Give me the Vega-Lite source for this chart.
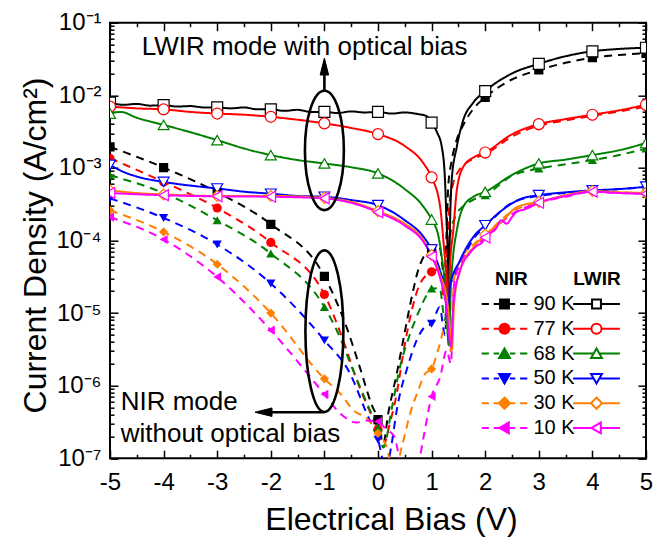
{
"$schema": "https://vega.github.io/schema/vega-lite/v6.json",
"width": 536, "height": 435.5,
"autosize": {"type": "none"},
"padding": {"left": 110, "top": 22.7, "right": 21, "bottom": 80},
"config": {
  "view": {"stroke": "black", "strokeWidth": 2},
  "font": "Liberation Sans",
  "axis": {"grid": false, "domain": false, "tickColor": "black", "tickWidth": 1.5, "labelFont": "Liberation Sans", "labelColor": "black", "labelFontSize": 24, "titleFont": "Liberation Sans", "titleFontSize": 32, "titleFontWeight": "normal", "titleColor": "black", "labelFlush": false, "labelOverlap": false}
},
"datasets": {
"c": [
{"m":"NIR","T":"90 K","V":-5,"J":1.95e-3},{"m":"NIR","T":"90 K","V":-4,"J":1.01e-3},{"m":"NIR","T":"90 K","V":-3,"J":4.6e-4},{"m":"NIR","T":"90 K","V":-2,"J":1.67e-4},{"m":"NIR","T":"90 K","V":-1,"J":3.2e-5},{"m":"NIR","T":"90 K","V":-0.6,"J":6.8e-6},{"m":"NIR","T":"90 K","V":-0.34,"J":1.8e-6},{"m":"NIR","T":"90 K","V":-0.12,"J":5.5e-7},{"m":"NIR","T":"90 K","V":0,"J":3.4e-7},{"m":"NIR","T":"90 K","V":0.1,"J":1.6e-7},{"m":"NIR","T":"90 K","V":0.19,"J":4.1e-7},{"m":"NIR","T":"90 K","V":0.35,"J":1.46e-6},{"m":"NIR","T":"90 K","V":0.47,"J":4.2e-6},{"m":"NIR","T":"90 K","V":0.63,"J":1.66e-5},{"m":"NIR","T":"90 K","V":0.75,"J":3.9e-5},{"m":"NIR","T":"90 K","V":1,"J":7.7e-5},{"m":"NIR","T":"90 K","V":1.15,"J":8e-5},{"m":"NIR","T":"90 K","V":1.24,"J":3e-5},{"m":"NIR","T":"90 K","V":1.28,"J":1.3e-4},{"m":"NIR","T":"90 K","V":1.31,"J":5.5e-4},{"m":"NIR","T":"90 K","V":1.37,"J":1.2e-3},{"m":"NIR","T":"90 K","V":1.45,"J":2.2e-3},{"m":"NIR","T":"90 K","V":1.6,"J":4e-3},{"m":"NIR","T":"90 K","V":1.8,"J":6.8e-3},{"m":"NIR","T":"90 K","V":2,"J":9.35e-3},{"m":"NIR","T":"90 K","V":2.5,"J":1.65e-2},{"m":"NIR","T":"90 K","V":3,"J":2.23e-2},{"m":"NIR","T":"90 K","V":3.5,"J":2.8e-2},{"m":"NIR","T":"90 K","V":4,"J":3.29e-2},{"m":"NIR","T":"90 K","V":4.5,"J":3.6e-2},{"m":"NIR","T":"90 K","V":5,"J":3.79e-2},
{"m":"NIR","T":"77 K","V":-5,"J":1.35e-3},{"m":"NIR","T":"77 K","V":-4,"J":6.4e-4},{"m":"NIR","T":"77 K","V":-3,"J":2.8e-4},{"m":"NIR","T":"77 K","V":-2,"J":9.4e-5},{"m":"NIR","T":"77 K","V":-1,"J":1.8e-5},{"m":"NIR","T":"77 K","V":-0.65,"J":4.2e-6},{"m":"NIR","T":"77 K","V":-0.37,"J":1.06e-6},{"m":"NIR","T":"77 K","V":-0.12,"J":3.9e-7},{"m":"NIR","T":"77 K","V":0,"J":2.5e-7},{"m":"NIR","T":"77 K","V":0.1,"J":1.5e-7},{"m":"NIR","T":"77 K","V":0.22,"J":3e-7},{"m":"NIR","T":"77 K","V":0.35,"J":7.8e-7},{"m":"NIR","T":"77 K","V":0.47,"J":2.75e-6},{"m":"NIR","T":"77 K","V":0.63,"J":1.09e-5},{"m":"NIR","T":"77 K","V":0.78,"J":2.5e-5},{"m":"NIR","T":"77 K","V":1,"J":3.7e-5},{"m":"NIR","T":"77 K","V":1.15,"J":4e-5},{"m":"NIR","T":"77 K","V":1.24,"J":1.5e-5},{"m":"NIR","T":"77 K","V":1.29,"J":8e-5},{"m":"NIR","T":"77 K","V":1.33,"J":3e-4},{"m":"NIR","T":"77 K","V":1.4,"J":6e-4},{"m":"NIR","T":"77 K","V":1.5,"J":9e-4},{"m":"NIR","T":"77 K","V":1.6,"J":1.1e-3},{"m":"NIR","T":"77 K","V":1.8,"J":1.35e-3},{"m":"NIR","T":"77 K","V":2,"J":1.55e-3},{"m":"NIR","T":"77 K","V":2.5,"J":2.7e-3},{"m":"NIR","T":"77 K","V":3,"J":3.8e-3},{"m":"NIR","T":"77 K","V":3.5,"J":4.5e-3},{"m":"NIR","T":"77 K","V":4,"J":5.2e-3},{"m":"NIR","T":"77 K","V":4.5,"J":6e-3},{"m":"NIR","T":"77 K","V":5,"J":7e-3},
{"m":"NIR","T":"68 K","V":-5,"J":7.9e-4},{"m":"NIR","T":"68 K","V":-4,"J":4.5e-4},{"m":"NIR","T":"68 K","V":-3,"J":1.9e-4},{"m":"NIR","T":"68 K","V":-2,"J":6.6e-5},{"m":"NIR","T":"68 K","V":-1,"J":1.21e-5},{"m":"NIR","T":"68 K","V":-0.77,"J":5.8e-6},{"m":"NIR","T":"68 K","V":-0.46,"J":1.6e-6},{"m":"NIR","T":"68 K","V":-0.15,"J":4.6e-7},{"m":"NIR","T":"68 K","V":0,"J":2.6e-7},{"m":"NIR","T":"68 K","V":0.1,"J":1.4e-7},{"m":"NIR","T":"68 K","V":0.26,"J":5e-7},{"m":"NIR","T":"68 K","V":0.41,"J":1.8e-6},{"m":"NIR","T":"68 K","V":0.6,"J":5.2e-6},{"m":"NIR","T":"68 K","V":0.75,"J":1e-5},{"m":"NIR","T":"68 K","V":0.91,"J":1.77e-5},{"m":"NIR","T":"68 K","V":1,"J":2.17e-5},{"m":"NIR","T":"68 K","V":1.15,"J":2.2e-5},{"m":"NIR","T":"68 K","V":1.25,"J":8e-6},{"m":"NIR","T":"68 K","V":1.3,"J":5e-5},{"m":"NIR","T":"68 K","V":1.35,"J":1.2e-4},{"m":"NIR","T":"68 K","V":1.45,"J":2.2e-4},{"m":"NIR","T":"68 K","V":1.6,"J":3e-4},{"m":"NIR","T":"68 K","V":1.8,"J":3.7e-4},{"m":"NIR","T":"68 K","V":2,"J":4.2e-4},{"m":"NIR","T":"68 K","V":2.5,"J":7.8e-4},{"m":"NIR","T":"68 K","V":3,"J":9.8e-4},{"m":"NIR","T":"68 K","V":3.5,"J":1.12e-3},{"m":"NIR","T":"68 K","V":4,"J":1.28e-3},{"m":"NIR","T":"68 K","V":4.5,"J":1.5e-3},{"m":"NIR","T":"68 K","V":5,"J":1.85e-3},
{"m":"NIR","T":"50 K","V":-5,"J":3.8e-4},{"m":"NIR","T":"50 K","V":-4,"J":2.04e-4},{"m":"NIR","T":"50 K","V":-3,"J":8.8e-5},{"m":"NIR","T":"50 K","V":-2,"J":2.55e-5},{"m":"NIR","T":"50 K","V":-1,"J":4.2e-6},{"m":"NIR","T":"50 K","V":-0.52,"J":1.46e-6},{"m":"NIR","T":"50 K","V":-0.21,"J":4.1e-7},{"m":"NIR","T":"50 K","V":0,"J":1.8e-7},{"m":"NIR","T":"50 K","V":0.15,"J":7e-8},{"m":"NIR","T":"50 K","V":0.25,"J":1.5e-7},{"m":"NIR","T":"50 K","V":0.35,"J":4.6e-7},{"m":"NIR","T":"50 K","V":0.57,"J":2e-6},{"m":"NIR","T":"50 K","V":0.72,"J":4.2e-6},{"m":"NIR","T":"50 K","V":0.88,"J":6.5e-6},{"m":"NIR","T":"50 K","V":1,"J":7.1e-6},{"m":"NIR","T":"50 K","V":1.15,"J":1.2e-5},{"m":"NIR","T":"50 K","V":1.25,"J":5e-6},{"m":"NIR","T":"50 K","V":1.3,"J":2e-5},{"m":"NIR","T":"50 K","V":1.4,"J":3e-5},{"m":"NIR","T":"50 K","V":1.55,"J":5e-5},{"m":"NIR","T":"50 K","V":1.8,"J":1.1e-4},{"m":"NIR","T":"50 K","V":2,"J":1.55e-4},{"m":"NIR","T":"50 K","V":2.5,"J":3.3e-4},{"m":"NIR","T":"50 K","V":3,"J":4.1e-4},{"m":"NIR","T":"50 K","V":3.5,"J":4.5e-4},{"m":"NIR","T":"50 K","V":4,"J":4.8e-4},{"m":"NIR","T":"50 K","V":4.5,"J":5.1e-4},{"m":"NIR","T":"50 K","V":5,"J":5.4e-4},
{"m":"NIR","T":"30 K","V":-5,"J":2.6e-4},{"m":"NIR","T":"30 K","V":-4,"J":1.31e-4},{"m":"NIR","T":"30 K","V":-3,"J":4.7e-5},{"m":"NIR","T":"30 K","V":-2,"J":1e-5},{"m":"NIR","T":"30 K","V":-1,"J":1.24e-6},{"m":"NIR","T":"30 K","V":-0.7,"J":7.7e-7},{"m":"NIR","T":"30 K","V":-0.45,"J":4.5e-7},{"m":"NIR","T":"30 K","V":-0.2,"J":3.5e-7},{"m":"NIR","T":"30 K","V":0,"J":2.2e-7},{"m":"NIR","T":"30 K","V":0.15,"J":1.5e-7},{"m":"NIR","T":"30 K","V":0.3,"J":6e-8},{"m":"NIR","T":"30 K","V":0.45,"J":1.5e-7},{"m":"NIR","T":"30 K","V":0.6,"J":4.1e-7},{"m":"NIR","T":"30 K","V":0.75,"J":8.6e-7},{"m":"NIR","T":"30 K","V":0.88,"J":1.46e-6},{"m":"NIR","T":"30 K","V":1,"J":1.7e-6},{"m":"NIR","T":"30 K","V":1.12,"J":3.06e-6},{"m":"NIR","T":"30 K","V":1.28,"J":7.1e-6},{"m":"NIR","T":"30 K","V":1.35,"J":3e-6},{"m":"NIR","T":"30 K","V":1.42,"J":3e-5},{"m":"NIR","T":"30 K","V":1.55,"J":5.5e-5},{"m":"NIR","T":"30 K","V":1.8,"J":9e-5},{"m":"NIR","T":"30 K","V":2,"J":1.2e-4},{"m":"NIR","T":"30 K","V":2.5,"J":2.5e-4},{"m":"NIR","T":"30 K","V":3,"J":3.3e-4},{"m":"NIR","T":"30 K","V":3.5,"J":4.1e-4},{"m":"NIR","T":"30 K","V":4,"J":4.7e-4},{"m":"NIR","T":"30 K","V":4.5,"J":4.6e-4},{"m":"NIR","T":"30 K","V":5,"J":4.5e-4},
{"m":"NIR","T":"10 K","V":-5,"J":2.1e-4},{"m":"NIR","T":"10 K","V":-4,"J":1.03e-4},{"m":"NIR","T":"10 K","V":-3,"J":3.14e-5},{"m":"NIR","T":"10 K","V":-2,"J":5.8e-6},{"m":"NIR","T":"10 K","V":-1,"J":7.6e-7},{"m":"NIR","T":"10 K","V":-0.7,"J":4.1e-7},{"m":"NIR","T":"10 K","V":-0.4,"J":3.1e-7},{"m":"NIR","T":"10 K","V":-0.2,"J":3.3e-7},{"m":"NIR","T":"10 K","V":0,"J":3.2e-7},{"m":"NIR","T":"10 K","V":0.15,"J":2.5e-7},{"m":"NIR","T":"10 K","V":0.3,"J":2e-7},{"m":"NIR","T":"10 K","V":0.45,"J":7e-8},{"m":"NIR","T":"10 K","V":0.6,"J":5e-8},{"m":"NIR","T":"10 K","V":0.75,"J":8e-8},{"m":"NIR","T":"10 K","V":0.85,"J":1.95e-7},{"m":"NIR","T":"10 K","V":1,"J":7.1e-7},{"m":"NIR","T":"10 K","V":1.16,"J":1.31e-6},{"m":"NIR","T":"10 K","V":1.28,"J":3.06e-6},{"m":"NIR","T":"10 K","V":1.36,"J":2e-6},{"m":"NIR","T":"10 K","V":1.42,"J":2.5e-5},{"m":"NIR","T":"10 K","V":1.55,"J":5e-5},{"m":"NIR","T":"10 K","V":1.8,"J":8e-5},{"m":"NIR","T":"10 K","V":2,"J":1.1e-4},{"m":"NIR","T":"10 K","V":2.5,"J":2.3e-4},{"m":"NIR","T":"10 K","V":3,"J":3.3e-4},{"m":"NIR","T":"10 K","V":3.5,"J":4e-4},{"m":"NIR","T":"10 K","V":4,"J":4.7e-4},{"m":"NIR","T":"10 K","V":4.5,"J":4.5e-4},{"m":"NIR","T":"10 K","V":5,"J":4.4e-4},
{"m":"LWIR","T":"90 K","V":-5,"J":7.9e-3},{"m":"LWIR","T":"90 K","V":-4.75,"J":7.4e-3},{"m":"LWIR","T":"90 K","V":-4.5,"J":7.6e-3},{"m":"LWIR","T":"90 K","V":-4.25,"J":7.2e-3},{"m":"LWIR","T":"90 K","V":-4,"J":7.3e-3},{"m":"LWIR","T":"90 K","V":-3.75,"J":7e-3},{"m":"LWIR","T":"90 K","V":-3.5,"J":7.1e-3},{"m":"LWIR","T":"90 K","V":-3.25,"J":6.8e-3},{"m":"LWIR","T":"90 K","V":-3,"J":6.8e-3},{"m":"LWIR","T":"90 K","V":-2.75,"J":6.6e-3},{"m":"LWIR","T":"90 K","V":-2.5,"J":6.8e-3},{"m":"LWIR","T":"90 K","V":-2.25,"J":6.4e-3},{"m":"LWIR","T":"90 K","V":-2,"J":6.4e-3},{"m":"LWIR","T":"90 K","V":-1.75,"J":6.1e-3},{"m":"LWIR","T":"90 K","V":-1.5,"J":6.3e-3},{"m":"LWIR","T":"90 K","V":-1.25,"J":5.9e-3},{"m":"LWIR","T":"90 K","V":-1,"J":5.9e-3},{"m":"LWIR","T":"90 K","V":-0.75,"J":5.7e-3},{"m":"LWIR","T":"90 K","V":-0.5,"J":6e-3},{"m":"LWIR","T":"90 K","V":-0.25,"J":5.8e-3},{"m":"LWIR","T":"90 K","V":0,"J":5.9e-3},{"m":"LWIR","T":"90 K","V":0.25,"J":5.6e-3},{"m":"LWIR","T":"90 K","V":0.5,"J":5.8e-3},{"m":"LWIR","T":"90 K","V":0.75,"J":5.5e-3},{"m":"LWIR","T":"90 K","V":0.9,"J":5.2e-3},{"m":"LWIR","T":"90 K","V":1,"J":4.2e-3},{"m":"LWIR","T":"90 K","V":1.1,"J":3.1e-3},{"m":"LWIR","T":"90 K","V":1.19,"J":1.95e-3},{"m":"LWIR","T":"90 K","V":1.25,"J":6.8e-4},{"m":"LWIR","T":"90 K","V":1.28,"J":1.7e-4},{"m":"LWIR","T":"90 K","V":1.3,"J":8e-5},{"m":"LWIR","T":"90 K","V":1.32,"J":1.5e-5},{"m":"LWIR","T":"90 K","V":1.34,"J":1.2e-4},{"m":"LWIR","T":"90 K","V":1.375,"J":6.8e-4},{"m":"LWIR","T":"90 K","V":1.47,"J":1.95e-3},{"m":"LWIR","T":"90 K","V":1.59,"J":4.55e-3},{"m":"LWIR","T":"90 K","V":1.77,"J":7.8e-3},{"m":"LWIR","T":"90 K","V":2,"J":1.14e-2},{"m":"LWIR","T":"90 K","V":2.5,"J":2e-2},{"m":"LWIR","T":"90 K","V":3,"J":2.71e-2},{"m":"LWIR","T":"90 K","V":3.5,"J":3.45e-2},{"m":"LWIR","T":"90 K","V":4,"J":4.04e-2},{"m":"LWIR","T":"90 K","V":4.5,"J":4.35e-2},{"m":"LWIR","T":"90 K","V":5,"J":4.52e-2},
{"m":"LWIR","T":"77 K","V":-5,"J":7e-3},{"m":"LWIR","T":"77 K","V":-4.5,"J":6.6e-3},{"m":"LWIR","T":"77 K","V":-4,"J":6.4e-3},{"m":"LWIR","T":"77 K","V":-3.5,"J":5.9e-3},{"m":"LWIR","T":"77 K","V":-3,"J":5.6e-3},{"m":"LWIR","T":"77 K","V":-2.5,"J":5.4e-3},{"m":"LWIR","T":"77 K","V":-2,"J":5.05e-3},{"m":"LWIR","T":"77 K","V":-1.5,"J":4.6e-3},{"m":"LWIR","T":"77 K","V":-1,"J":4.1e-3},{"m":"LWIR","T":"77 K","V":-0.5,"J":3.55e-3},{"m":"LWIR","T":"77 K","V":0,"J":2.92e-3},{"m":"LWIR","T":"77 K","V":0.5,"J":2e-3},{"m":"LWIR","T":"77 K","V":0.85,"J":1.15e-3},{"m":"LWIR","T":"77 K","V":1,"J":7.4e-4},{"m":"LWIR","T":"77 K","V":1.16,"J":2.9e-4},{"m":"LWIR","T":"77 K","V":1.23,"J":8.1e-5},{"m":"LWIR","T":"77 K","V":1.28,"J":2.8e-5},{"m":"LWIR","T":"77 K","V":1.31,"J":8e-6},{"m":"LWIR","T":"77 K","V":1.34,"J":4e-5},{"m":"LWIR","T":"77 K","V":1.405,"J":1.38e-4},{"m":"LWIR","T":"77 K","V":1.47,"J":4.9e-4},{"m":"LWIR","T":"77 K","V":1.59,"J":1.03e-3},{"m":"LWIR","T":"77 K","V":1.78,"J":1.39e-3},{"m":"LWIR","T":"77 K","V":2,"J":1.63e-3},{"m":"LWIR","T":"77 K","V":2.5,"J":2.9e-3},{"m":"LWIR","T":"77 K","V":3,"J":4e-3},{"m":"LWIR","T":"77 K","V":3.5,"J":4.7e-3},{"m":"LWIR","T":"77 K","V":4,"J":5.4e-3},{"m":"LWIR","T":"77 K","V":4.5,"J":6.2e-3},{"m":"LWIR","T":"77 K","V":5,"J":7.4e-3},
{"m":"LWIR","T":"68 K","V":-5,"J":5.6e-3},{"m":"LWIR","T":"68 K","V":-4.8,"J":5.9e-3},{"m":"LWIR","T":"68 K","V":-4.5,"J":4.9e-3},{"m":"LWIR","T":"68 K","V":-4,"J":3.9e-3},{"m":"LWIR","T":"68 K","V":-3.5,"J":3.1e-3},{"m":"LWIR","T":"68 K","V":-3,"J":2.41e-3},{"m":"LWIR","T":"68 K","V":-2.5,"J":1.85e-3},{"m":"LWIR","T":"68 K","V":-2,"J":1.5e-3},{"m":"LWIR","T":"68 K","V":-1.5,"J":1.28e-3},{"m":"LWIR","T":"68 K","V":-1,"J":1.15e-3},{"m":"LWIR","T":"68 K","V":-0.5,"J":1.02e-3},{"m":"LWIR","T":"68 K","V":0,"J":8.4e-4},{"m":"LWIR","T":"68 K","V":0.5,"J":5.1e-4},{"m":"LWIR","T":"68 K","V":0.85,"J":2.9e-4},{"m":"LWIR","T":"68 K","V":1,"J":1.94e-4},{"m":"LWIR","T":"68 K","V":1.13,"J":1.12e-4},{"m":"LWIR","T":"68 K","V":1.19,"J":5.9e-5},{"m":"LWIR","T":"68 K","V":1.26,"J":2e-5},{"m":"LWIR","T":"68 K","V":1.32,"J":3.6e-6},{"m":"LWIR","T":"68 K","V":1.36,"J":2.5e-5},{"m":"LWIR","T":"68 K","V":1.4,"J":6e-5},{"m":"LWIR","T":"68 K","V":1.47,"J":1.38e-4},{"m":"LWIR","T":"68 K","V":1.59,"J":2.9e-4},{"m":"LWIR","T":"68 K","V":1.78,"J":4e-4},{"m":"LWIR","T":"68 K","V":2,"J":4.67e-4},{"m":"LWIR","T":"68 K","V":2.5,"J":8e-4},{"m":"LWIR","T":"68 K","V":3,"J":1.15e-3},{"m":"LWIR","T":"68 K","V":3.5,"J":1.3e-3},{"m":"LWIR","T":"68 K","V":4,"J":1.5e-3},{"m":"LWIR","T":"68 K","V":4.5,"J":1.75e-3},{"m":"LWIR","T":"68 K","V":5,"J":2.2e-3},
{"m":"LWIR","T":"50 K","V":-5,"J":1.1e-3},{"m":"LWIR","T":"50 K","V":-4.75,"J":8.8e-4},{"m":"LWIR","T":"50 K","V":-4.5,"J":7.6e-4},{"m":"LWIR","T":"50 K","V":-4,"J":6.4e-4},{"m":"LWIR","T":"50 K","V":-3.5,"J":5.7e-4},{"m":"LWIR","T":"50 K","V":-3,"J":5.2e-4},{"m":"LWIR","T":"50 K","V":-2.5,"J":4.7e-4},{"m":"LWIR","T":"50 K","V":-2,"J":4.4e-4},{"m":"LWIR","T":"50 K","V":-1.5,"J":4.1e-4},{"m":"LWIR","T":"50 K","V":-1,"J":4e-4},{"m":"LWIR","T":"50 K","V":-0.5,"J":3.6e-4},{"m":"LWIR","T":"50 K","V":0,"J":3.06e-4},{"m":"LWIR","T":"50 K","V":0.5,"J":1.9e-4},{"m":"LWIR","T":"50 K","V":0.85,"J":1.12e-4},{"m":"LWIR","T":"50 K","V":1,"J":7.5e-5},{"m":"LWIR","T":"50 K","V":1.15,"J":4e-5},{"m":"LWIR","T":"50 K","V":1.25,"J":2e-5},{"m":"LWIR","T":"50 K","V":1.31,"J":8.3e-6},{"m":"LWIR","T":"50 K","V":1.34,"J":2.3e-5},{"m":"LWIR","T":"50 K","V":1.53,"J":5.3e-5},{"m":"LWIR","T":"50 K","V":1.78,"J":1.12e-4},{"m":"LWIR","T":"50 K","V":2,"J":1.62e-4},{"m":"LWIR","T":"50 K","V":2.4,"J":2.9e-4},{"m":"LWIR","T":"50 K","V":2.65,"J":3.7e-4},{"m":"LWIR","T":"50 K","V":3,"J":4.2e-4},{"m":"LWIR","T":"50 K","V":3.5,"J":4.6e-4},{"m":"LWIR","T":"50 K","V":4,"J":4.9e-4},{"m":"LWIR","T":"50 K","V":4.5,"J":5.1e-4},{"m":"LWIR","T":"50 K","V":5,"J":5.5e-4},
{"m":"LWIR","T":"30 K","V":-5,"J":4.9e-4},{"m":"LWIR","T":"30 K","V":-4.5,"J":4.5e-4},{"m":"LWIR","T":"30 K","V":-4,"J":4.3e-4},{"m":"LWIR","T":"30 K","V":-3,"J":4.1e-4},{"m":"LWIR","T":"30 K","V":-2,"J":4.1e-4},{"m":"LWIR","T":"30 K","V":-1,"J":3.86e-4},{"m":"LWIR","T":"30 K","V":-0.5,"J":3.4e-4},{"m":"LWIR","T":"30 K","V":0,"J":2.53e-4},{"m":"LWIR","T":"30 K","V":0.5,"J":1.7e-4},{"m":"LWIR","T":"30 K","V":0.85,"J":1e-4},{"m":"LWIR","T":"30 K","V":1,"J":6.3e-5},{"m":"LWIR","T":"30 K","V":1.15,"J":3.5e-5},{"m":"LWIR","T":"30 K","V":1.3,"J":1.3e-5},{"m":"LWIR","T":"30 K","V":1.38,"J":3.1e-6},{"m":"LWIR","T":"30 K","V":1.42,"J":1.35e-5},{"m":"LWIR","T":"30 K","V":1.53,"J":3.9e-5},{"m":"LWIR","T":"30 K","V":1.78,"J":8e-5},{"m":"LWIR","T":"30 K","V":2,"J":1.2e-4},{"m":"LWIR","T":"30 K","V":2.3,"J":1.8e-4},{"m":"LWIR","T":"30 K","V":2.6,"J":2.9e-4},{"m":"LWIR","T":"30 K","V":3,"J":3.4e-4},{"m":"LWIR","T":"30 K","V":3.5,"J":4.2e-4},{"m":"LWIR","T":"30 K","V":4,"J":4.8e-4},{"m":"LWIR","T":"30 K","V":4.5,"J":4.6e-4},{"m":"LWIR","T":"30 K","V":5,"J":4.5e-4},
{"m":"LWIR","T":"10 K","V":-5,"J":4.5e-4},{"m":"LWIR","T":"10 K","V":-4,"J":4.2e-4},{"m":"LWIR","T":"10 K","V":-3,"J":4.05e-4},{"m":"LWIR","T":"10 K","V":-2,"J":4e-4},{"m":"LWIR","T":"10 K","V":-1,"J":3.8e-4},{"m":"LWIR","T":"10 K","V":-0.5,"J":3.3e-4},{"m":"LWIR","T":"10 K","V":0,"J":2.45e-4},{"m":"LWIR","T":"10 K","V":0.5,"J":1.6e-4},{"m":"LWIR","T":"10 K","V":0.85,"J":9.5e-5},{"m":"LWIR","T":"10 K","V":1,"J":6e-5},{"m":"LWIR","T":"10 K","V":1.15,"J":3.2e-5},{"m":"LWIR","T":"10 K","V":1.27,"J":1.3e-5},{"m":"LWIR","T":"10 K","V":1.36,"J":3.4e-6},{"m":"LWIR","T":"10 K","V":1.41,"J":1.4e-5},{"m":"LWIR","T":"10 K","V":1.53,"J":3.8e-5},{"m":"LWIR","T":"10 K","V":1.7,"J":6.5e-5},{"m":"LWIR","T":"10 K","V":1.85,"J":8.5e-5},{"m":"LWIR","T":"10 K","V":1.95,"J":9.5e-5},{"m":"LWIR","T":"10 K","V":2,"J":1.1e-4},{"m":"LWIR","T":"10 K","V":2.2,"J":1.45e-4},{"m":"LWIR","T":"10 K","V":2.3,"J":1.9e-4},{"m":"LWIR","T":"10 K","V":2.4,"J":1.7e-4},{"m":"LWIR","T":"10 K","V":2.5,"J":2.1e-4},{"m":"LWIR","T":"10 K","V":2.6,"J":2.5e-4},{"m":"LWIR","T":"10 K","V":2.75,"J":2.7e-4},{"m":"LWIR","T":"10 K","V":3,"J":3.3e-4},{"m":"LWIR","T":"10 K","V":3.5,"J":4.1e-4},{"m":"LWIR","T":"10 K","V":4,"J":4.7e-4},{"m":"LWIR","T":"10 K","V":4.5,"J":4.5e-4},{"m":"LWIR","T":"10 K","V":5,"J":4.4e-4}
],
"notes": [
{"V":-4.41,"J":0.0358,"t":"LWIR mode with optical bias"},
{"V":-4.8,"J":4.55e-7,"t":"NIR mode"},
{"V":-4.8,"J":1.67e-7,"t":"without optical bias"}
],
"rings": [
{"V":-1,"J":1.74e-3,"e":"a"},
{"V":-1,"J":5.62e-6,"e":"b"}
],
"arrows": [
{"V":-1,"J":0.01153,"V2":-1,"J2":0.019},
{"V":-1,"J":4.3e-7,"V2":-1.98,"J2":4.3e-7}
],
"heads": [
{"V":-1,"J":0.0249,"d":"up"},
{"V":-2.136,"J":4.3e-7,"d":"left"}
]
},
"layer": [
{
 "data": {"name": "c"},
 "mark": {"type": "line", "strokeWidth": 2, "interpolate": "monotone", "clip": true, "strokeCap": "butt"},
 "encoding": {
  "x": {"field": "V", "type": "quantitative", "scale": {"domain": [-5, 5], "nice": false, "zero": false},
        "axis": {"orient": "bottom", "offset": -8, "tickSize": 8, "values": [-5,-4,-3,-2,-1,0,1,2,3,4,5], "labelExpr": "toString(datum.value)", "labelPadding": 31.3, "labelBaseline": "alphabetic", "labelAlign": "center", "title": "Electrical Bias (V)", "titleX": 281, "titleY": 79.1, "titleBaseline": "alphabetic", "titleAlign": "center", "titleAnchor": null}},
  "y": {"field": "J", "type": "quantitative", "scale": {"type": "log", "domain": [1e-7, 0.1], "nice": false},
        "axis": {"orient": "left", "offset": -8, "tickSize": 8, "values": [1e-7,1e-6,1e-5,1e-4,1e-3,1e-2,1e-1], "labelPadding": 9, "labelBaseline": "middle", "labelAlign": "right",
                 "labelExpr": "'10' + ['⁻¹','⁻²','⁻³','⁻⁴','⁻⁵','⁻⁶','⁻⁷'][round(-log(datum.value)/LN10) - 1]",
                 "title": "Current Density (A/cm²)", "titleX": -72.5, "titleY": 222.3, "titleAngle": 270, "titleBaseline": "alphabetic", "titleAlign": "center"}},
  "color": {"field": "T", "type": "nominal", "scale": {"domain": ["90 K","77 K","68 K","50 K","30 K","10 K"], "range": ["#000000","#ff0000","#008000","#0000ff","#ff8000","#ff00ff"]}, "legend": null},
  "strokeDash": {"field": "m", "type": "nominal", "scale": {"domain": ["NIR","LWIR"], "range": [[8,6],[1,0]]}, "legend": null}
 }
},
{
 "data": {"name": "c"},
 "transform": [{"filter": "datum.m == 'NIR' && datum.V == round(datum.V)"}],
 "mark": {"type": "point", "filled": true, "size": 85, "opacity": 1, "clip": true},
 "encoding": {
  "x": {"field": "V", "type": "quantitative", "scale": {"domain": [-5, 5], "nice": false, "zero": false},
        "axis": {"orient": "bottom", "offset": -4, "tickSize": 4, "values": [-4.5,-3.5,-2.5,-1.5,-0.5,0.5,1.5,2.5,3.5,4.5], "labels": false, "title": null}},
  "y": {"field": "J", "type": "quantitative", "scale": {"type": "log", "domain": [1e-7, 0.1], "nice": false},
        "axis": {"orient": "left", "offset": -4, "tickSize": 4, "labels": false, "title": null, "values": [2e-7,3e-7,4e-7,5e-7,6e-7,7e-7,8e-7,9e-7,2e-6,3e-6,4e-6,5e-6,6e-6,7e-6,8e-6,9e-6,2e-5,3e-5,4e-5,5e-5,6e-5,7e-5,8e-5,9e-5,2e-4,3e-4,4e-4,5e-4,6e-4,7e-4,8e-4,9e-4,2e-3,3e-3,4e-3,5e-3,6e-3,7e-3,8e-3,9e-3,2e-2,3e-2,4e-2,5e-2,6e-2,7e-2,8e-2,9e-2]}},
  "color": {"field": "T", "type": "nominal", "scale": {"domain": ["90 K","77 K","68 K","50 K","30 K","10 K"], "range": ["#000000","#ff0000","#008000","#0000ff","#ff8000","#ff00ff"]}, "legend": null},
  "shape": {"field": "T", "type": "nominal", "scale": {"domain": ["90 K","77 K","68 K","50 K","30 K","10 K"], "range": ["square","circle","triangle-up","triangle-down","diamond","triangle-left"]}, "legend": null}
 }
},
{
 "data": {"name": "c"},
 "transform": [{"filter": "datum.m == 'LWIR' && datum.V == round(datum.V)"}],
 "mark": {"type": "point", "filled": false, "fill": "white", "size": 120, "strokeWidth": 1.2, "opacity": 1, "clip": true},
 "encoding": {
  "x": {"field": "V", "type": "quantitative", "scale": {"domain": [-5, 5], "nice": false, "zero": false},
        "axis": {"orient": "top", "offset": -8, "tickSize": 8, "values": [-5,-4,-3,-2,-1,0,1,2,3,4,5], "labels": false, "title": null}},
  "y": {"field": "J", "type": "quantitative", "scale": {"type": "log", "domain": [1e-7, 0.1], "nice": false},
        "axis": {"orient": "right", "offset": -8, "tickSize": 8, "values": [1e-7,1e-6,1e-5,1e-4,1e-3,1e-2,1e-1], "labels": false, "title": null}},
  "stroke": {"field": "T", "type": "nominal", "scale": {"domain": ["90 K","77 K","68 K","50 K","30 K","10 K"], "range": ["#000000","#ff0000","#008000","#0000ff","#ff8000","#ff00ff"]}, "legend": null},
  "shape": {"field": "T", "type": "nominal", "scale": {"domain": ["90 K","77 K","68 K","50 K","30 K","10 K"], "range": ["square","circle","triangle-up","triangle-down","diamond","triangle-left"]}, "legend": null}
 }
},
{
 "data": {"name": "rings"},
 "mark": {"type": "point", "filled": false, "stroke": "black", "strokeWidth": 2.6, "size": 26115, "opacity": 1},
 "encoding": {
  "x": {"field": "V", "type": "quantitative", "scale": {"domain": [-5, 5], "nice": false, "zero": false},
        "axis": {"orient": "top", "offset": -4, "tickSize": 4, "values": [-4.5,-3.5,-2.5,-1.5,-0.5,0.5,1.5,2.5,3.5,4.5], "labels": false, "title": null}},
  "y": {"field": "J", "type": "quantitative", "scale": {"type": "log", "domain": [1e-7, 0.1], "nice": false},
        "axis": {"orient": "right", "offset": -4, "tickSize": 4, "labels": false, "title": null, "values": [2e-7,3e-7,4e-7,5e-7,6e-7,7e-7,8e-7,9e-7,2e-6,3e-6,4e-6,5e-6,6e-6,7e-6,8e-6,9e-6,2e-5,3e-5,4e-5,5e-5,6e-5,7e-5,8e-5,9e-5,2e-4,3e-4,4e-4,5e-4,6e-4,7e-4,8e-4,9e-4,2e-3,3e-3,4e-3,5e-3,6e-3,7e-3,8e-3,9e-3,2e-2,3e-2,4e-2,5e-2,6e-2,7e-2,8e-2,9e-2]}},
  "shape": {"field": "e", "type": "nominal", "scale": {"domain": ["a","b"], "range": ["M-0.241,0A0.241,0.739,0,1,0,0.241,0A0.241,0.739,0,1,0,-0.241,0Z","M-0.235,0A0.235,1,0,1,0,0.235,0A0.235,1,0,1,0,-0.235,0Z"]}, "legend": null}
 }
},
{
 "data": {"name": "arrows"},
 "mark": {"type": "rule", "stroke": "black", "strokeWidth": 2.6},
 "encoding": {
  "x": {"field": "V", "type": "quantitative", "scale": {"domain": [-5, 5], "nice": false, "zero": false}, "axis": null},
  "y": {"field": "J", "type": "quantitative", "scale": {"type": "log", "domain": [1e-7, 0.1], "nice": false}, "axis": null},
  "x2": {"field": "V2"},
  "y2": {"field": "J2"}
 }
},
{
 "data": {"name": "heads"},
 "mark": {"type": "point", "filled": true, "fill": "black", "stroke": "black", "strokeWidth": 1, "size": 289, "opacity": 1},
 "encoding": {
  "x": {"field": "V", "type": "quantitative", "scale": {"domain": [-5, 5], "nice": false, "zero": false}, "axis": null},
  "y": {"field": "J", "type": "quantitative", "scale": {"type": "log", "domain": [1e-7, 0.1], "nice": false}, "axis": null},
  "shape": {"field": "d", "type": "nominal", "scale": {"domain": ["up","left"], "range": ["M0,-1L0.5,1L-0.5,1Z","M-1,0L1,-0.5L1,0.5Z"]}, "legend": null}
 }
},
{
 "data": {"name": "notes"},
 "mark": {"type": "text", "font": "Liberation Sans", "fontSize": 26, "align": "left", "baseline": "alphabetic", "color": "black"},
 "encoding": {
  "x": {"field": "V", "type": "quantitative", "scale": {"domain": [-5, 5], "nice": false, "zero": false}, "axis": null},
  "y": {"field": "J", "type": "quantitative", "scale": {"type": "log", "domain": [1e-7, 0.1], "nice": false}, "axis": null},
  "text": {"field": "t"}
 }
},
{
 "data": {"name": "c"},
 "transform": [{"filter": "datum.V > 99"}],
 "mark": {"type": "point", "filled": true, "size": 576, "strokeWidth": 2, "opacity": 1},
 "encoding": {
  "shape": {"field": "T", "type": "nominal", "scale": {"domain": ["90 K","77 K","68 K","50 K","30 K","10 K"], "range": [
     "M-1.9,0H-1.3M-0.9,0H-0.45M0.45,0H0.9M1.3,0H1.9M-0.37,-0.37H0.37V0.37H-0.37Z",
     "M-1.9,0H-1.3M-0.9,0H-0.45M0.45,0H0.9M1.3,0H1.9M-0.42,0A0.42,0.42,0,1,0,0.42,0A0.42,0.42,0,1,0,-0.42,0Z",
     "M-1.9,0H-1.3M-0.9,0H-0.45M0.45,0H0.9M1.3,0H1.9M0,-0.42L0.45,0.36L-0.45,0.36Z",
     "M-1.9,0H-1.3M-0.9,0H-0.45M0.45,0H0.9M1.3,0H1.9M0,0.42L0.45,-0.36L-0.45,-0.36Z",
     "M-1.9,0H-1.3M-0.9,0H-0.45M0.45,0H0.9M1.3,0H1.9M0,-0.47L0.47,0L0,0.47L-0.47,0Z",
     "M-1.9,0H-1.3M-0.9,0H-0.45M0.45,0H0.9M1.3,0H1.9M-0.42,0L0.36,-0.45L0.36,0.45Z"]},
     "legend": {"orient": "none", "legendX": 385, "legendY": 247.3, "padding": 0, "title": "NIR", "titleFont": "Liberation Sans", "titleFontSize": 19, "titleFontWeight": "bold", "titleColor": "black", "titlePadding": 2, "labelFont": "Liberation Sans", "labelFontSize": 20, "labelColor": "black", "labelOffset": 16, "symbolOffset": -3.5, "symbolSize": 576, "symbolStrokeWidth": 2, "rowPadding": 1.8}},
  "fill": {"field": "T", "type": "nominal", "scale": {"domain": ["90 K","77 K","68 K","50 K","30 K","10 K"], "range": ["#000000","#ff0000","#008000","#0000ff","#ff8000","#ff00ff"]},
     "legend": {"orient": "none", "legendX": 385, "legendY": 247.3, "padding": 0, "title": "NIR", "titleFont": "Liberation Sans", "titleFontSize": 19, "titleFontWeight": "bold", "titleColor": "black", "titlePadding": 2, "labelFont": "Liberation Sans", "labelFontSize": 20, "labelColor": "black", "labelOffset": 16, "symbolOffset": -3.5, "symbolSize": 576, "symbolStrokeWidth": 2, "rowPadding": 1.8}},
  "stroke": {"field": "T", "type": "nominal", "scale": {"domain": ["90 K","77 K","68 K","50 K","30 K","10 K"], "range": ["#000000","#ff0000","#008000","#0000ff","#ff8000","#ff00ff"]},
     "legend": {"orient": "none", "legendX": 385, "legendY": 247.3, "padding": 0, "title": "NIR", "titleFont": "Liberation Sans", "titleFontSize": 19, "titleFontWeight": "bold", "titleColor": "black", "titlePadding": 2, "labelFont": "Liberation Sans", "labelFontSize": 20, "labelColor": "black", "labelOffset": 16, "symbolOffset": -3.5, "symbolSize": 576, "symbolStrokeWidth": 2, "rowPadding": 1.8}}
 }
},
{
 "data": {"name": "c"},
 "transform": [{"filter": "datum.V > 99"}],
 "mark": {"type": "point", "filled": false, "fill": "white", "size": 576, "strokeWidth": 2, "opacity": 1},
 "encoding": {
  "shape": {"field": "T", "type": "nominal", "scale": {"domain": ["90 K","77 K","68 K","50 K","30 K","10 K"], "range": [
     "M-1.95,0H-0.37M0.37,0H1.95M-0.37,-0.37H0.37V0.37H-0.37Z",
     "M-1.95,0H-0.42M0.42,0H1.95M-0.42,0A0.42,0.42,0,1,0,0.42,0A0.42,0.42,0,1,0,-0.42,0Z",
     "M-1.95,0H-0.3M0.3,0H1.95M0,-0.42L0.45,0.36L-0.45,0.36Z",
     "M-1.95,0H-0.3M0.3,0H1.95M0,0.42L0.45,-0.36L-0.45,-0.36Z",
     "M-1.95,0H-0.47M0.47,0H1.95M0,-0.47L0.47,0L0,0.47L-0.47,0Z",
     "M-1.95,0H-0.42M0.36,0H1.95M-0.42,0L0.36,-0.45L0.36,0.45Z"]},
     "legend": {"orient": "none", "legendX": 463.3, "legendY": 247.3, "padding": 0, "title": "LWIR", "titleFont": "Liberation Sans", "titleFontSize": 19, "titleFontWeight": "bold", "titleColor": "black", "titlePadding": 2, "labelFontSize": 20, "labelExpr": "''", "symbolOffset": 10.2, "symbolSize": 576, "symbolStrokeWidth": 2, "symbolFillColor": "white", "rowPadding": 1.8}},
  "stroke": {"field": "T", "type": "nominal", "scale": {"domain": ["90 K","77 K","68 K","50 K","30 K","10 K"], "range": ["#000000","#ff0000","#008000","#0000ff","#ff8000","#ff00ff"]},
     "legend": {"orient": "none", "legendX": 463.3, "legendY": 247.3, "padding": 0, "title": "LWIR", "titleFont": "Liberation Sans", "titleFontSize": 19, "titleFontWeight": "bold", "titleColor": "black", "titlePadding": 2, "labelFontSize": 20, "labelExpr": "''", "symbolOffset": 10.2, "symbolSize": 576, "symbolStrokeWidth": 2, "symbolFillColor": "white", "rowPadding": 1.8}}
 }
}
],
"resolve": {
 "scale": {"shape": "independent", "fill": "independent", "stroke": "independent"},
 "axis": {"x": "independent", "y": "independent"},
 "legend": {"shape": "independent", "fill": "independent", "stroke": "independent"}
}
}
